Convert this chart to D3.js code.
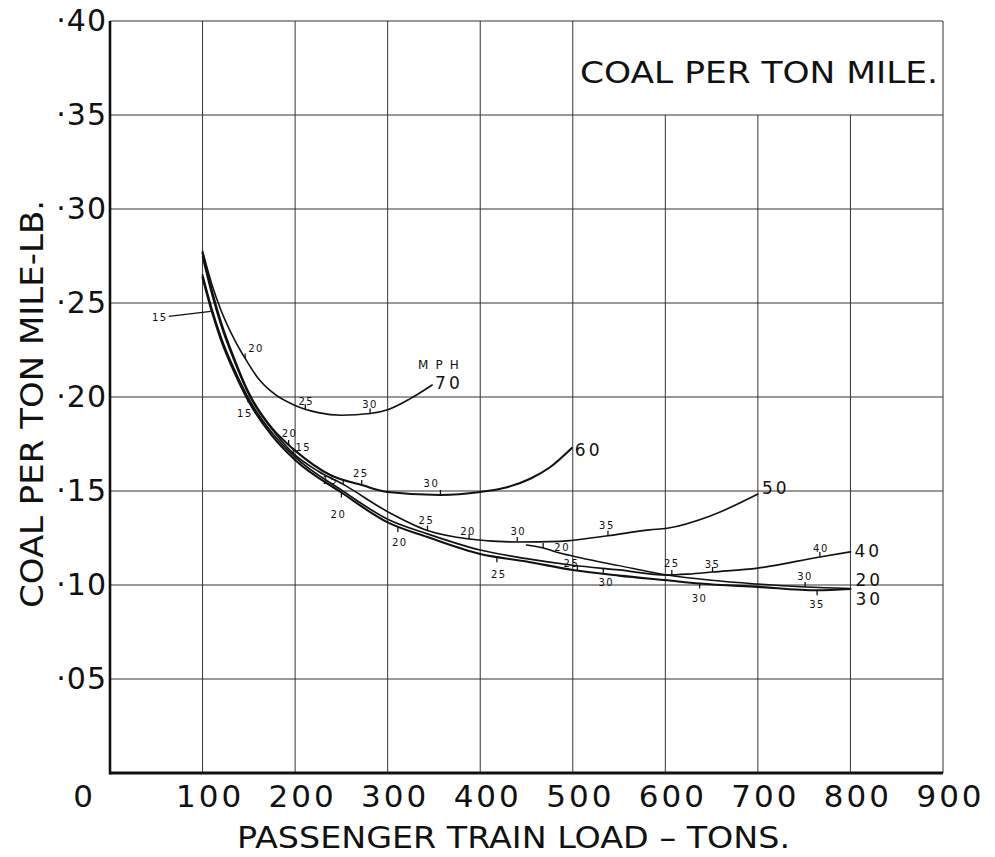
<!DOCTYPE html>
<html>
<head>
<meta charset="utf-8">
<script src="https://cdn.jsdelivr.net/npm/d3@7"></script>
<style>
  html, body { margin: 0; padding: 0; background: #fff; }
  svg { display: block; }
  text { font-family: "DejaVu Sans", sans-serif; fill: #111; }
</style>
</head>
<body>
<svg id="chart" width="995" height="857"></svg>
<script>

// ---- Data (load in tons, coal in lb per ton mile) ----
var speeds = ["70", "60", "50", "40", "30", "20"];   // MPH, one curve each

var load70 = [100, 110, 120, 135, 146, 160, 178, 200, 225, 250, 281, 300, 324, 348];
var coal70 = [.2776, .2600, .2460, .2300, .2205, .2100, .2015, .1955, .1917, .1903, .1912, .1932, .1990, .2064];

var load60 = [100, 110, 120, 135, 150, 175, 193, 200, 238, 273, 300, 357, 400, 429, 454, 475, 499];
var coal60 = [.2766, .2566, .2396, .2194, .2021, .1834, .1745, .1715, .1585, .153, .1495, .1479, .1495, .152, .1565, .1625, .1729];

var load50 = [100, 110, 120, 135, 150, 175, 198, 225, 252, 300, 343, 388, 440, 486, 500, 538, 583, 602, 650, 700];
var coal50 = [.2745, .2548, .2380, .2182, .2012, .1828, .1700, .1605, .1535, .1390, .129, .1245, .1229, .1232, .1238, .1262, .1293, .1302, .137, .1484];

var load40 = [100, 110, 120, 135, 150, 175, 200, 250, 300, 343, 400, 450, 500, 550, 602, 625, 651, 700, 767, 800];
var coal40 = [.2650, .2470, .2318, .2140, .1990, .1810, .1680, .1505, .1350, .1272, .1186, .114, .1105, .108, .1053, .1058, .1069, .109, .1149, .1176];

var load30 = [100, 110, 120, 135, 150, 175, 200, 250, 300, 343, 400, 450, 500, 550, 602, 637, 700, 764, 800];
var coal30 = [.2635, .2455, .2303, .2125, .1975, .1795, .1665, .1492, .1333, .1255, .1165, .1125, .108, .105, .1025, .1008, .099, .0972, .0979];

var load20 = [450, 468, 486, 508, 550, 602, 650, 700, 751, 800];
var coal20 = [.1213, .1197, .117, .1145, .1103, .1053, .1025, .1005, .0989, .0982];

// small marks along the curves: which curve, at what load, and the figure written there
var markCurve = ["70", "70", "70", "30", "40", "60", "50", "50", "60", "60", "30", "30", "50",
                 "50", "30", "50", "20", "30", "40", "50", "40", "40", "30", "20", "30", "40"];
var markLoad  = [146, 211, 281, 110, 149, 193, 198, 252, 272, 357, 250, 311, 343,
                 388, 418, 440, 468, 505, 533, 538, 607, 651, 637, 751, 764, 767];
var markText  = ["20", "25", "30", "15", "15", "20", "15", "15", "25", "30", "20", "20", "25",
                 "20", "25", "30", "20", "25", "30", "35", "25", "35", "30", "30", "35", "40"];

var xTicks = [100, 200, 300, 400, 500, 600, 700, 800, 900];
var yTicks = [.05, .10, .15, .20, .25, .30, .35, .40];

// ---- Layout / style ----
var x = d3.scaleLinear().domain([0, 900]).range([110, 943]);
var y = d3.scaleLinear().domain([0, 0.40]).range([773, 21]);

// label offsets (px) for each mark above, relative to its point on the curve
var markOffset = [[11, -10], [1, -8], [0, -9], [-52, 6], [-3, 16], [1, -11], [10, -6], [-13, -4], [-1, -12],
                  [-9, -11], [-3, 22], [2, 16], [-1, -10], [-1, -7], [2, 17], [1, -10], [19, 0], [-6, -7],
                  [3, 14], [-1, -10], [0, -11], [0, -8], [0, 15], [0, -11], [0, 14], [1, -8]];
var endOffset = {"70": [3, 4], "60": [3, 8], "50": [4, 0], "40": [4, 5], "20": [5, -2], "30": [5, 16]};
var lineWidth = {"70": 1.6, "60": 2.1, "50": 1.6, "40": 1.7, "30": 2.1, "20": 1.5};

var svg = d3.select("#chart");

// ---- Grid ----
var grid = svg.append("g").attr("stroke", "#333").attr("stroke-width", 1);

grid.selectAll("line.v").data(xTicks).join("line")
    .attr("class", "v")
    .attr("x1", function (d) { return x(d); })
    .attr("x2", function (d) { return x(d); })
    .attr("y1", y(0))
    // the title box in the top right interrupts the 600-800 lines
    .attr("y2", function (d) { return (d >= 600 && d < 900) ? y(0.35) : y(0.40); });

grid.selectAll("line.h").data(yTicks).join("line")
    .attr("class", "h")
    .attr("x1", x(0))
    .attr("x2", x(900))
    .attr("y1", function (d) { return y(d); })
    .attr("y2", function (d) { return y(d); });

// ---- Axes ----
var yAxis = d3.axisLeft(y).tickValues(yTicks).tickSize(0).tickPadding(3)
    .tickFormat(function (d) { return "\u00B7" + d3.format("02d")(Math.round(d * 100)); });
var gy = svg.append("g").attr("transform", "translate(" + x(0) + ",0)").call(yAxis);
gy.select(".domain").remove();
gy.selectAll("text").style("font-size", "30px").style("letter-spacing", "1px")
    .style("font-family", "\"DejaVu Sans\", sans-serif").attr("fill", "#111");

var xAxis = d3.axisBottom(x).tickValues(xTicks).tickSize(0).tickFormat(d3.format("d"));
var gx = svg.append("g").attr("transform", "translate(0," + y(0) + ")").call(xAxis);
gx.select(".domain").remove();
gx.selectAll("text").attr("y", 34).attr("dy", null).attr("dx", 7)
    .style("font-size", "31px").style("letter-spacing", "3px")
    .style("font-family", "\"DejaVu Sans\", sans-serif").attr("fill", "#111");

// shared origin label
svg.append("text").attr("x", x(0) - 27).attr("y", y(0) + 34)
    .attr("text-anchor", "middle").style("font-size", "31px").text("0");

// heavy axis lines
svg.append("line").attr("x1", x(0)).attr("x2", x(0)).attr("y1", y(0) + 1.5).attr("y2", y(0.40))
    .attr("stroke", "#111").attr("stroke-width", 2.6);
svg.append("line").attr("x1", x(0)).attr("x2", x(900)).attr("y1", y(0)).attr("y2", y(0))
    .attr("stroke", "#111").attr("stroke-width", 3);

// ---- Titles ----
svg.append("text").attr("x", 580).attr("y", 83)
    .attr("textLength", 358).attr("lengthAdjust", "spacingAndGlyphs")
    .style("font-size", "31px").text("COAL PER TON MILE.");

svg.append("text").attr("x", 237).attr("y", 848)
    .attr("textLength", 553).attr("lengthAdjust", "spacingAndGlyphs")
    .style("font-size", "31px").text("PASSENGER TRAIN LOAD \u2013 TONS.");

svg.append("text").attr("transform", "translate(43,404) rotate(-90)")
    .attr("text-anchor", "middle")
    .attr("textLength", 408).attr("lengthAdjust", "spacingAndGlyphs")
    .style("font-size", "32px").text("COAL PER TON MILE-LB.");

// ---- Curves ----
var seriesData = {
    "70": d3.zip(load70, coal70),
    "60": d3.zip(load60, coal60),
    "50": d3.zip(load50, coal50),
    "40": d3.zip(load40, coal40),
    "30": d3.zip(load30, coal30),
    "20": d3.zip(load20, coal20)
};

var line = d3.line()
    .x(function (d) { return x(d[0]); })
    .y(function (d) { return y(d[1]); })
    .curve(d3.curveMonotoneX);

var curveNodes = {};
var curves = svg.append("g").attr("fill", "none").attr("stroke", "#111");
speeds.forEach(function (s) {
    var p = curves.append("path")
        .datum(seriesData[s])
        .attr("d", line)
        .attr("stroke-width", lineWidth[s])
        .attr("stroke-linecap", "round");
    curveNodes[s] = p.node();
});

// find the drawn point of a curve at a given load
function pointAt(s, load) {
    var node = curveNodes[s], px = x(load);
    var lo = 0, hi = node.getTotalLength();
    for (var i = 0; i < 40; i++) {
        var mid = (lo + hi) / 2;
        if (node.getPointAtLength(mid).x < px) lo = mid; else hi = mid;
    }
    return node.getPointAtLength((lo + hi) / 2);
}

// ---- Marks along the curves ----
var marks = svg.append("g");
markCurve.forEach(function (s, i) {
    var p = pointAt(s, markLoad[i]);
    var off = markOffset[i];
    var dir = off[1] > 0 ? 1 : -1;
    if (Math.abs(off[0]) > 30) {
        // leader from the written figure to the curve
        marks.append("line")
            .attr("x1", p.x + off[0] + 9).attr("y1", p.y + off[1] - 1)
            .attr("x2", p.x - 1).attr("y2", p.y)
            .attr("stroke", "#111").attr("stroke-width", 1.2);
    } else {
        marks.append("line")
            .attr("x1", p.x).attr("x2", p.x)
            .attr("y1", p.y).attr("y2", p.y + dir * 5)
            .attr("stroke", "#111").attr("stroke-width", 1.3);
    }
    marks.append("text")
        .attr("x", p.x + off[0]).attr("y", p.y + off[1])
        .attr("text-anchor", "middle").attr("dominant-baseline", "central")
        .style("font-size", "10px").style("letter-spacing", "1.5px")
        .text(markText[i]);
});

// ---- Speed labels at curve ends ----
speeds.forEach(function (s) {
    var d = seriesData[s][seriesData[s].length - 1];
    var off = endOffset[s];
    svg.append("text")
        .attr("x", x(d[0]) + off[0]).attr("y", y(d[1]) + off[1])
        .style("font-size", "17px").style("letter-spacing", "3px")
        .text(s);
});

var end70 = seriesData["70"][seriesData["70"].length - 1];
svg.append("text")
    .attr("x", x(end70[0]) - 14).attr("y", y(end70[1]) - 16)
    .style("font-size", "12px").style("letter-spacing", "7px")
    .text("MPH");

</script>
</body>
</html>
